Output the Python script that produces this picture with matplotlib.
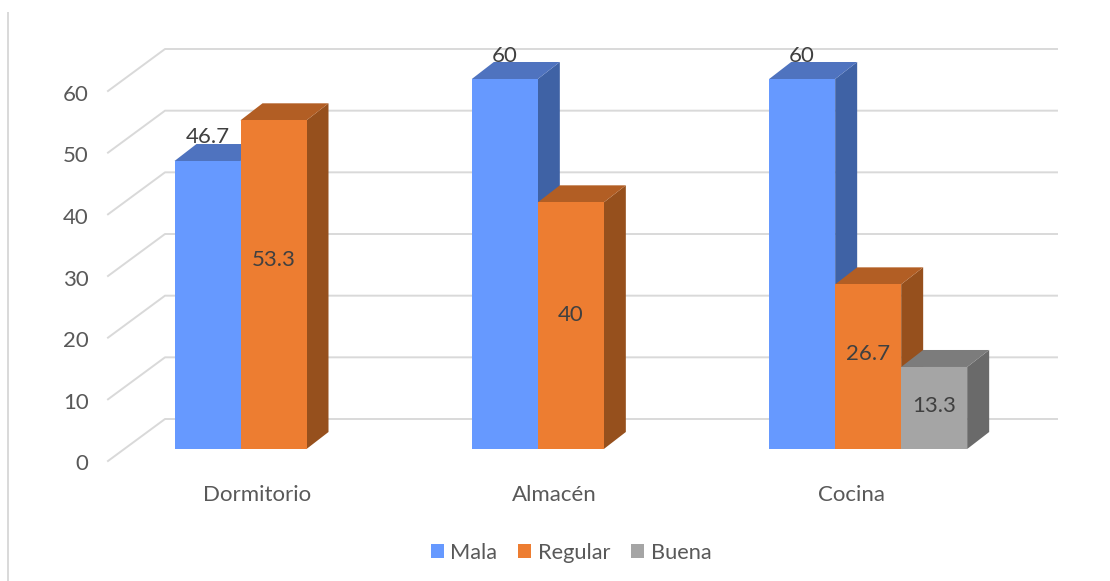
import numpy as np
import matplotlib
matplotlib.use('Agg')
import matplotlib.pyplot as plt
from matplotlib.patches import Polygon, Patch
from matplotlib.lines import Line2D
from matplotlib.transforms import ScaledTranslation

categorias = ['Dormitorio', 'Almacén', 'Cocina']
series = ['Mala', 'Regular', 'Buena']
mala = [46.7, 60, 60]
regular = [53.3, 40, 26.7]
buena = [None, None, 13.3]
ticks = [0, 10, 20, 30, 40, 50, 60]

# colores: frente, arriba, costado
colores = {
    'Mala': ('#6699FF', '#4F73BF', '#3F62A5'),
    'Regular': ('#ED7D31', '#B25E24', '#96501D'),
    'Buena': ('#A5A5A5', '#7C7C7C', '#6A6A6A'),
}

W, H = 1110, 581
plt.rcParams['font.family'] = ['Lato', 'DejaVu Sans']

fig = plt.figure(figsize=(W / 100, H / 100), dpi=100)
# el eje es el plano frontal del grafico 3D
x0, x1, y0, y1 = 108, 1000, 461, 91
ax = fig.add_axes([x0 / W, 1 - y0 / H, (x1 - x0) / W, (y0 - y1) / H])
ax.set_xlim(0, 3)
ax.set_ylim(0, 60)
for s in ax.spines.values():
    s.set_visible(False)
ax.patch.set_visible(False)

px = 3 / (x1 - x0)       # pixel a unidad de categoria
py = 60 / (y0 - y1)      # pixel a unidad de valor

# pared del fondo y lineas del piso
wall_dx, wall_dy = 57 * px, 42 * py
wall_len = 892 * px
for t in ticks:
    ax.plot([0, wall_dx, wall_dx + wall_len], [t, t + wall_dy, t + wall_dy],
            color='#D9D9D9', lw=1.4, clip_on=False, zorder=1)

# barras oblicuas
ancho = 66 * px
margen = 66.5 * px
front_dy = 12 * py
dx, dy = 22 * px, 17 * py

def barra(x, v, cols, z):
    b = front_dy
    t = v + front_dy
    ax.add_patch(Polygon([(x + ancho, b), (x + ancho + dx, b + dy), (x + ancho + dx, t + dy), (x + ancho, t)],
                         fc=cols[2], ec='none', clip_on=False, zorder=z))
    ax.add_patch(Polygon([(x, t), (x + dx, t + dy), (x + ancho + dx, t + dy), (x + ancho, t)],
                         fc=cols[1], ec='none', clip_on=False, zorder=z))
    ax.add_patch(Polygon([(x, b), (x + ancho, b), (x + ancho, t), (x, t)],
                         fc=cols[0], ec='none', clip_on=False, zorder=z + 0.1))

# desplazamiento de cada etiqueta sobre el centro del frente, en pixeles
offs = {
    'Mala': [-168, -208, -208],
    'Regular': [-25, -11, -13],
    'Buena': [0, 0, -2],
}
valores = {'Mala': mala, 'Regular': regular, 'Buena': buena}
for i in range(len(categorias)):
    for j, s in enumerate(series):
        v = valores[s][i]
        if v is None:
            continue
        x = i + margen + j * ancho
        barra(x, v, colores[s], 3 + i + j * 0.2)
        ax.text(x + ancho / 2, front_dy + v / 2 - offs[s][i] * py, f'{v:g}', ha='center', va='center',
                fontsize=16, color='#404040', clip_on=False, zorder=10)

ax.set_yticks(ticks)
ax.set_xticks(np.arange(3) + 0.5)
ax.set_xticklabels(categorias)
ax.tick_params(axis='both', length=0, labelsize=16, labelcolor='#595959')
ax.tick_params(axis='y', pad=14)
ax.tick_params(axis='x', pad=17)
# bajar un poco los numeros del eje
baja = ScaledTranslation(0, -1.5 / 100, fig.dpi_scale_trans)
for lab in ax.get_yticklabels():
    lab.set_va('center_baseline')
    lab.set_transform(lab.get_transform() + baja)

# linea vertical a la izquierda
fig.add_artist(Line2D([8 / W, 8 / W], [0, 1 - 13 / H], color='#D9D9D9', lw=1.4))

handles = [Patch(fc=colores[s][0], ec='none', label=s) for s in series]
fig.legend(handles=handles, loc='center', bbox_to_anchor=(571 / W, 1 - 553 / H), ncol=3, frameon=False,
           fontsize=15.7, labelcolor='#595959', handlelength=0.6, handleheight=0.6,
           handletextpad=0.3, columnspacing=0.95)

fig.savefig('out.png', dpi=100)
